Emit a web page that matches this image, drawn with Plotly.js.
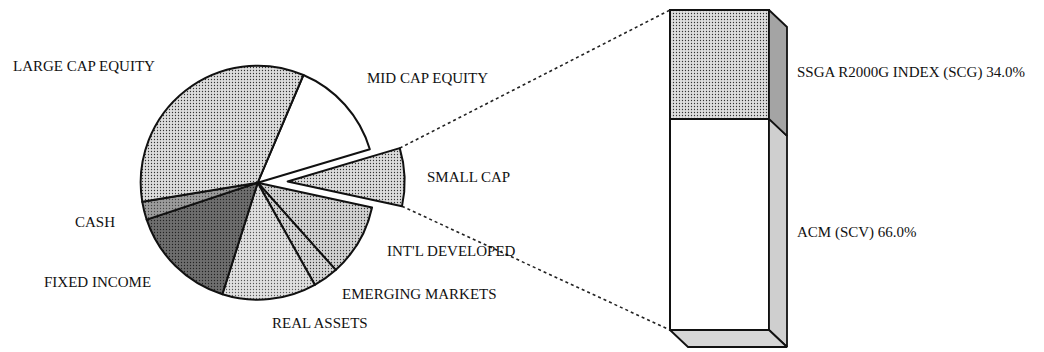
<!DOCTYPE html>
<html>
<head>
<meta charset="utf-8">
<script src="https://cdn.plot.ly/plotly-3.0.1.min.js"></script>
<style>
  html, body { margin: 0; padding: 0; background: #fff; }
  #chart { width: 1044px; height: 352px; }
</style>
</head>
<body>
<div id="chart"></div>
<script>
// asset allocation pie, with the small cap slice broken out into a bar

const sliceLabels = ['MID CAP EQUITY', 'SMALL CAP', "INT'L DEVELOPED", 'EMERGING MARKETS',
                     'REAL ASSETS', 'FIXED INCOME', 'CASH', 'LARGE CAP EQUITY'];
const sliceValues = [14, 8, 10, 3.5, 13, 15, 2.5, 34];

const barLabels = ['ACM (SCV)', 'SSGA R2000G INDEX (SCG)'];
const barValues = [66.0, 34.0];

// ---- layout / style constants ----
const W = 1044, H = 352;
const FONT = 'Liberation Serif, Times New Roman, serif';

const PIE_CX = 257.7, PIE_CY = 182.7, PIE_R = 117;   // pixels
const PULL = 0.256;
const ROT = 23;
const EXPLODE = 1;   // index of the slice shown as bar

const sliceColors = ['#ffffff', '#dcdcdc', '#d2d2d2', '#d4d4d4', '#e0e0e0', '#6e6e6e', '#9c9c9c', '#dddddd'];
const sliceDotCol = ['#ffffff', '#333333', '#333333', '#333333', '#555555', '#222222', '#444444', '#333333'];
const sliceDots   = ['', '.', '.', '.', '.', '.', '.', '.'];

// bar front face in pixels -> data units of x2/y2
const BAR_L = 670, BAR_R = 769, BAR_TOP = 10, BAR_BOT = 330;
const KX = BAR_R - BAR_L;                // px per x unit
const KY = (BAR_BOT - BAR_TOP) / 100;    // px per y unit
const DX = 18 / KX, DY = -17 / KY;       // depth offset

function px2x(px) { return (px - BAR_L) / KX; }
function py2y(py) { return (BAR_BOT - py) / KY; }

// pie domain so that the pulled pie ends up with radius PIE_R
const half = PIE_R * (1 + PULL);
const pieDomain = {
  x: [(PIE_CX - half) / W, (PIE_CX + half) / W],
  y: [1 - (PIE_CY + half) / H, 1 - (PIE_CY - half) / H]
};

const pie = {
  type: 'pie',
  labels: sliceLabels,
  values: sliceValues,
  sort: false,
  direction: 'clockwise',
  rotation: ROT,
  pull: sliceValues.map((v, i) => i === EXPLODE ? PULL : 0),
  textinfo: 'none',
  hoverinfo: 'skip',
  domain: pieDomain,
  marker: {
    colors: sliceColors,
    line: {color: '#111', width: 2},
    pattern: {shape: sliceDots, fgcolor: sliceDotCol, bgcolor: sliceColors, size: 3, solidity: 0.15}
  },
  showlegend: false
};

// stacked bar (front faces)
let traces = [pie];
const barColors = ['#ffffff', '#dedede'];
const barDots = ['', '.'];
let base = 0;
const segs = [];
barValues.forEach((v, i) => {
  traces.push({
    type: 'bar', x: [0.5], y: [v], width: 1,
    xaxis: 'x2', yaxis: 'y2',
    marker: {color: barColors[i], line: {color: '#111', width: 2},
             pattern: {shape: barDots[i], fgcolor: '#333', bgcolor: barColors[i], size: 3, solidity: 0.15}},
    hoverinfo: 'skip', showlegend: false
  });
  segs.push([base, base + v]);
  base += v;
});

// side faces, one per segment
const sideColors = ['#cfcfcf', '#a4a4a4'];
segs.forEach(([b, t], i) => {
  traces.push({
    type: 'scatter', mode: 'lines', xaxis: 'x2', yaxis: 'y2',
    x: [1, 1 + DX, 1 + DX, 1, 1],
    y: [t, t + DY, b + DY, b, t],
    fill: 'toself', fillcolor: sideColors[i],
    line: {color: '#111', width: 1.8},
    hoverinfo: 'skip', showlegend: false
  });
});
// bottom face
traces.push({
  type: 'scatter', mode: 'lines', xaxis: 'x2', yaxis: 'y2',
  x: [0, 1, 1 + DX, DX, 0],
  y: [0, 0, DY, DY, 0],
  fill: 'toself', fillcolor: '#d6d6d6',
  line: {color: '#111', width: 1.8},
  hoverinfo: 'skip', showlegend: false
});

// dotted connectors from the pulled slice corners to the bar
const total = sliceValues.reduce((a, b) => a + b, 0);
const before = sliceValues.slice(0, EXPLODE).reduce((a, b) => a + b, 0);
const a0 = (ROT + 360 * before / total) * Math.PI / 180;
const a1 = (ROT + 360 * (before + sliceValues[EXPLODE]) / total) * Math.PI / 180;
const am = (a0 + a1) / 2;
const pcx = PIE_CX + PULL * PIE_R * Math.sin(am);
const pcy = PIE_CY - PULL * PIE_R * Math.cos(am);
const cTop = [pcx + PIE_R * Math.sin(a0), pcy - PIE_R * Math.cos(a0)];
const cBot = [pcx + PIE_R * Math.sin(a1), pcy - PIE_R * Math.cos(a1)];
[[cTop, 100], [cBot, 0]].forEach(([c, yv]) => {
  traces.push({
    type: 'scatter', mode: 'lines', xaxis: 'x2', yaxis: 'y2',
    x: [px2x(c[0]), 0], y: [py2y(c[1]), yv],
    line: {color: '#222', width: 1.6, dash: 'dot'},
    hoverinfo: 'skip', showlegend: false
  });
});

// slice label positions (pixels)
const labelPos = {
  'LARGE CAP EQUITY': [84, 66],
  'MID CAP EQUITY': [427, 78],
  'SMALL CAP': [468, 177],
  "INT'L DEVELOPED": [451, 251],
  'EMERGING MARKETS': [419, 294],
  'REAL ASSETS': [320, 323],
  'FIXED INCOME': [97, 282],
  'CASH': [95, 222]
};

const annotations = sliceLabels.map(l => ({
  text: l, xref: 'paper', yref: 'paper',
  x: labelPos[l][0] / W, y: 1 - labelPos[l][1] / H,
  xanchor: 'center', yanchor: 'middle', showarrow: false,
  font: {family: FONT, size: 15, color: '#111'}
}));

segs.forEach(([b, t], i) => {
  annotations.push({
    text: barLabels[i] + ' ' + barValues[i].toFixed(1) + '%',
    xref: 'x2', yref: 'y2', x: 1 + DX, y: (b + t) / 2 + DY / 2,
    xanchor: 'left', yanchor: 'middle', xshift: 8, showarrow: false,
    font: {family: FONT, size: 15, color: '#111'}
  });
});

const layout = {
  width: W, height: H,
  margin: {l: 0, r: 0, t: 0, b: 0},
  paper_bgcolor: '#fff', plot_bgcolor: 'rgba(0,0,0,0)',
  barmode: 'stack',
  showlegend: false,
  xaxis2: {domain: [0, 1], range: [px2x(0), px2x(W)], visible: false, fixedrange: true, anchor: 'y2'},
  yaxis2: {domain: [0, 1], range: [py2y(H), py2y(0)], visible: false, fixedrange: true, anchor: 'x2'},
  annotations: annotations
};

Plotly.newPlot('chart', traces, layout, {staticPlot: true, displayModeBar: false});
</script>
</body>
</html>
